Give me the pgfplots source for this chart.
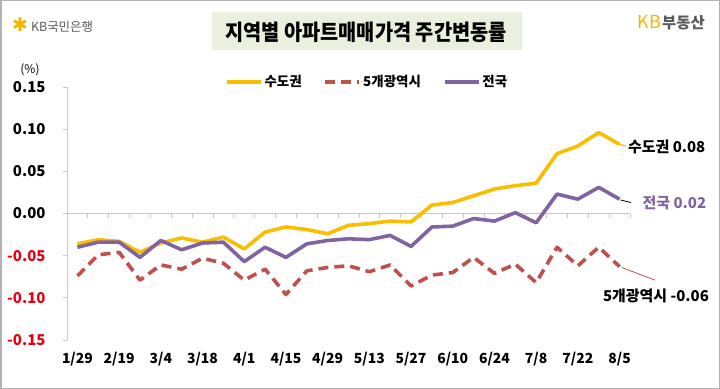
\documentclass[border=0pt]{standalone}
\usepackage{fontspec}
\usepackage{pgfplots}
\pgfplotsset{compat=1.18}
\setmainfont{Noto Sans CJK KR}
\newfontfamily\titlefont{Noto Sans CJK KR}[FakeStretch=0.9]
\newfontfamily\symfont{DejaVu Sans}
\definecolor{cyel}{RGB}{250,190,0}
\definecolor{cred}{RGB}{192,80,77}
\definecolor{cpur}{RGB}{128,100,162}
\definecolor{ctitle}{RGB}{235,240,222}
\definecolor{cgold}{RGB}{248,181,0}
\definecolor{cgray}{RGB}{90,90,90}
\definecolor{cax}{RGB}{200,200,200}
\definecolor{cneg}{RGB}{230,0,18}
\begin{document}
\begin{tikzpicture}
\useasboundingbox (0,0) rectangle (720bp,389bp);
\draw[line width=1.5bp, color=black!30] (0.75bp,0.75bp) rectangle (719.25bp,388.25bp);
\fill[ctitle] (211.5bp,339bp) rectangle (521.5bp,376.5bp);
\node[inner sep=0, font=\titlefont\bfseries\fontsize{22}{26}\selectfont] at (366bp,356.5bp) {지역별 아파트매매가격 주간변동률};
\node[anchor=west, inner sep=0] at (12bp,364bp) {{\symfont\color{cgold}\fontsize{19}{19}\selectfont ✱}\hspace{3bp}{\color{cgray}\fontsize{12.5}{13}\selectfont KB국민은행}};
\node[anchor=east, inner sep=0] at (705bp,366bp) {{\color{cgold}\fontsize{18}{18}\selectfont KB}\hspace{1bp}{\color{cgray}\bfseries\fontsize{15.5}{16}\selectfont 부동산}};
\node[inner sep=0] at (30bp,319bp) {\fontsize{12}{12}\selectfont (\%)};
\begin{axis}[
  at={(67bp,49bp)}, anchor=south west, scale only axis,
  width=563bp, height=253bp,
  xmin=-0.5, xmax=26.5, ymin=-0.15, ymax=0.15,
  clip=false,
  separate axis lines,
  axis y line*=left, axis x line*=bottom,
  x axis line style={draw=none},
  y axis line style={draw=cax, line width=0.8bp},
  xtick={0,2,...,26},
  xticklabels={1/29,2/19,3/4,3/18,4/1,4/15,4/29,5/13,5/27,6/10,6/24,7/8,7/22,8/5},
  xtick style={draw=none},
  x tick label style={font=\bfseries\fontsize{14}{14}\selectfont, yshift=-5bp},
  ytick={-0.15,-0.10,-0.05,0,0.05,0.10,0.15},
  yticklabels={{\color{cneg}-0.15},{\color{cneg}-0.10},{\color{cneg}-0.05},0.00,0.05,0.10,0.15},
  ytick style={draw=cax, line width=0.8bp},
  tick align=outside, major tick length=4bp,
  y tick label style={font=\bfseries\fontsize{15}{15}\selectfont, xshift=-14bp},
  legend style={at={(axis description cs:0.533,1.02)}, anchor=center, draw=none, fill=none,
    legend columns=3, font=\bfseries\fontsize{13.5}{14}\selectfont,
    /tikz/every even column/.append style={column sep=20bp}},
  legend image code/.code={\draw[#1] (0bp,0bp) -- (34bp,0bp);},
]
\draw[cax, line width=0.8bp] (axis cs:-0.5,0) -- (axis cs:26.5,0);
\pgfplotsinvokeforeach{0,...,27}{\draw[cax, line width=0.8bp] (axis cs:#1-0.5,0) -- (axis cs:#1-0.5,-0.005);}
\addplot[cyel, line width=3.6bp, line join=round] coordinates {
(0,-0.036) (1,-0.031) (2,-0.033) (3,-0.046) (4,-0.035) (5,-0.029) (6,-0.034) (7,-0.028) (8,-0.042)
(9,-0.022) (10,-0.016) (11,-0.019) (12,-0.024) (13,-0.014) (14,-0.012) (15,-0.009) (16,-0.010)
(17,0.010) (18,0.013) (19,0.021) (20,0.029) (21,0.033) (22,0.036) (23,0.071) (24,0.080) (25,0.096) (26,0.082)};
\addlegendentry{수도권}
\addplot[cred, line width=3.6bp, dash pattern=on 10bp off 6bp, line join=round] coordinates {
(0,-0.074) (1,-0.049) (2,-0.046) (3,-0.079) (4,-0.061) (5,-0.066) (6,-0.053) (7,-0.059) (8,-0.079)
(9,-0.066) (10,-0.096) (11,-0.068) (12,-0.064) (13,-0.062) (14,-0.069) (15,-0.061) (16,-0.086)
(17,-0.073) (18,-0.070) (19,-0.052) (20,-0.071) (21,-0.060) (22,-0.082) (23,-0.040) (24,-0.062) (25,-0.040) (26,-0.063)};
\addlegendentry{5개광역시}
\addplot[cpur, line width=3.6bp, line join=round] coordinates {
(0,-0.040) (1,-0.034) (2,-0.034) (3,-0.052) (4,-0.032) (5,-0.043) (6,-0.035) (7,-0.034) (8,-0.057)
(9,-0.040) (10,-0.052) (11,-0.036) (12,-0.032) (13,-0.030) (14,-0.031) (15,-0.026) (16,-0.039)
(17,-0.016) (18,-0.015) (19,-0.006) (20,-0.009) (21,0.001) (22,-0.011) (23,0.023) (24,0.017) (25,0.031) (26,0.017)};
\addlegendentry{전국}
\draw[cyel, line width=1.2bp] (axis cs:26,0.082) -- (axis cs:26.3,0.080);
\draw[black, line width=0.8bp] (axis cs:26.05,0.016) -- (axis cs:26.55,0.013);
\draw[cred, line width=0.8bp] (axis cs:26.1,-0.064) -- (axis cs:27.7,-0.079);
\node[anchor=west, inner sep=0, font=\bfseries\fontsize{15}{15}\selectfont] at (axis cs:26.4,0.079) {수도권 0.08};
\node[anchor=west, inner sep=0, text=cpur, font=\bfseries\fontsize{15}{15}\selectfont] at (axis cs:27.1,0.013) {전국 0.02};
\node[anchor=west, inner sep=0, font=\bfseries\fontsize{15}{15}\selectfont] at (axis cs:25.2,-0.098) {5개광역시 -0.06};
\end{axis}
\end{tikzpicture}
\end{document}
